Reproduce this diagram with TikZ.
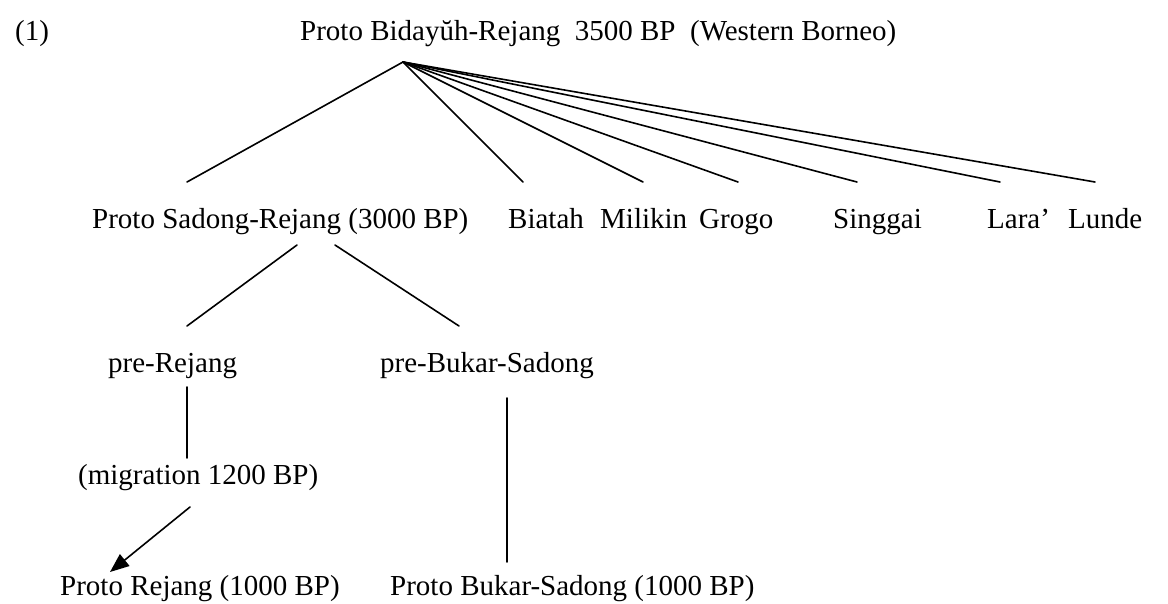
\documentclass[tikz,border=0pt]{standalone}
\usepackage{fontspec}
\setmainfont{Liberation Serif}
\usetikzlibrary{arrows.meta,positioning}
\tikzset{
  lbl/.style={font=\fontsize{29}{34}\selectfont, inner sep=0pt, anchor=base west},
  branch/.style={line width=1.6pt, black, line cap=round},
  move/.style={branch, -{Triangle[length=19pt,width=15pt]}}
}

\begin{document}
\begin{tikzpicture}[x=1pt,y=-1pt]
  \useasboundingbox (0,0) rectangle (1168,603);
  \node[lbl] (num) at (15,40) {(1)};
  \node[lbl] (root) at (300,40) {Proto Bidayŭh-Rejang\ \ 3500 BP\ \ (Western Borneo)};
  \coordinate (apex) at (403,62);
  % first split
  \node[lbl] (psr) at (92,228) {Proto Sadong-Rejang (3000 BP)};
  \foreach \name/\txt/\xs in {biatah/Biatah/508,milikin/Milikin/600,grogo/Grogo/699,
      singgai/Singgai/833,lara/Lara’/987,lunde/Lunde/1068}
    \node[lbl] (\name) at (\xs,228) {\txt};
  \foreach \xe [count=\i] in {187,523,643,738,857,1000,1095}
    \coordinate (fan\i) at (\xe,182);
  \foreach \i in {1,...,7}
    \draw[branch] (apex) -- (fan\i);
  % Sadong-Rejang split
  \node[lbl] (prerej) at (108,372) {pre-Rejang};
  \node[lbl] (prebs) at (380,372) {pre-Bukar-Sadong};
  \coordinate (sl) at (297,245);
  \coordinate (sr) at (335,245);
  \coordinate (slend) at (187,326);
  \coordinate (srend) at (459,326);
  \draw[branch] (sl) -- (slend);
  \draw[branch] (sr) -- (srend);
  % down to the proto languages
  \node[lbl] (migr) at (78,484) {(migration 1200 BP)};
  \node[lbl] (protorej) at (60,595) {Proto Rejang (1000 BP)};
  \node[lbl] (protobs) at (390,595) {Proto Bukar-Sadong (1000 BP)};
  \coordinate (v1top) at (187,387);
  \coordinate (v1bot) at (187,458);
  \coordinate (v2top) at (507,398);
  \coordinate (v2bot) at (507,562);
  \coordinate (atail) at (190,507);
  \coordinate (ahead) at (110,572);
  \draw[branch] (v1top) -- (v1bot);
  \draw[branch] (v2top) -- (v2bot);
  \draw[move] (atail) -- (ahead);
\end{tikzpicture}
\end{document}
